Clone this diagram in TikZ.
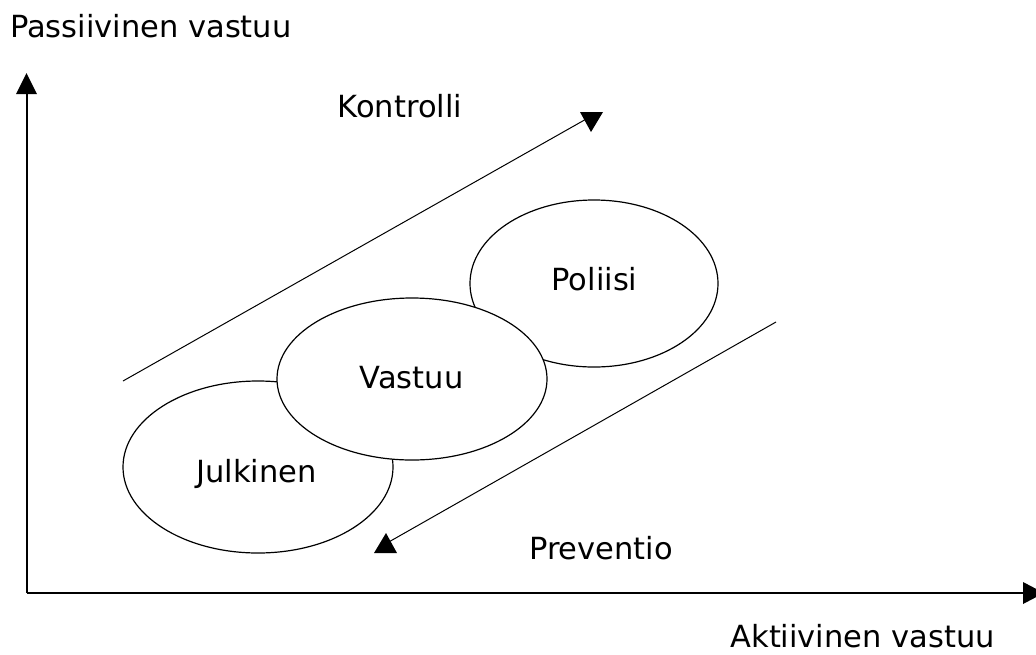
\documentclass[tikz,border=0pt]{standalone}
\usepackage{fontspec}
\setmainfont{DejaVu Sans}
\usetikzlibrary{shapes.geometric}
\begin{document}
\begin{tikzpicture}[x=1pt,y=-1pt,
  lbl/.style={font=\fontsize{30.5}{34}\selectfont, inner sep=0pt, anchor=base},
  blob/.style={ellipse, draw=black, line width=1.2pt, fill=white, inner sep=0pt},
  axis/.style={line width=1.3pt},
  trend/.style={line width=1pt},
  head/.style={fill=black}
]
\useasboundingbox (0,0) rectangle (1036,654);
\clip (0,0) rectangle (1036,654);
% axes
\coordinate (o) at (27,593);
\coordinate (ytop) at (27,94);
\coordinate (xend) at (1023,593);
\draw[axis] (o) -- (ytop);
\draw[axis] (o) -- (xend);
\fill[head] (16,94) -- (26.5,73) -- (37,94) -- cycle;
\fill[head] (1023,582) -- (1044,593) -- (1023,604) -- cycle;
% trend lines
\coordinate (k0) at (123,381);
\coordinate (k1) at (588,118);
\draw[trend] (k0) -- (k1);
\fill[head] (580,112) -- (603,112) -- (591,132) -- cycle;
\coordinate (p0) at (776,322);
\coordinate (p1) at (387,543);
\draw[trend] (p0) -- (p1);
\fill[head] (374,553) -- (397,553) -- (386,533) -- cycle;
% ellipses
\node[blob, minimum width=248pt, minimum height=167pt] (pol) at (594,283.5) {};
\node[blob, minimum width=270pt, minimum height=172pt] (jul) at (258,467) {};
\node[blob, minimum width=270pt, minimum height=162pt] (vas) at (412,379) {};
\node[lbl] (tpol) at (594.5,290) {Poliisi};
\node[lbl] (tjul) at (256.5,482) {Julkinen};
\node[lbl] (tvas) at (411.5,388) {Vastuu};
% labels
\node[lbl, anchor=base west] (ty) at (10,37) {Passiivinen vastuu};
\node[lbl] (tk) at (400,117) {Kontrolli};
\node[lbl] (tp) at (601,559) {Preventio};
\node[lbl, anchor=base east] (tx) at (995,647) {Aktiivinen vastuu};
\end{tikzpicture}
\end{document}
